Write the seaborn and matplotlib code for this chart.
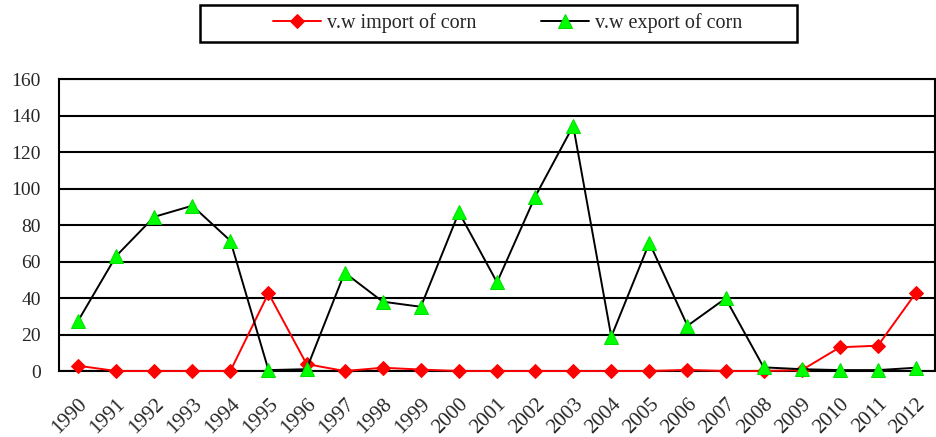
import pandas as pd
import matplotlib.pyplot as plt
import seaborn as sns
from matplotlib.patches import Rectangle

years = list(range(1990, 2013))
import_corn = [2.9, 0, 0, 0, 0, 42.6, 3.8, 0, 1.8, 0.8, 0, 0, 0, 0, 0, 0, 0.6, 0, 0, 0.5, 13.0, 13.9, 42.9]
export_corn = [27.4, 63.0, 84.5, 90.6, 71.4, 0.5, 1.0, 53.9, 38.0, 35.2, 87.0, 48.6, 95.5, 134.4, 18.8, 70.3, 24.8, 39.8, 2.0, 1.0, 0.5, 0.5, 1.8]

df = pd.DataFrame({"year": years, "import": import_corn, "export": export_corn})

sns.set_style("white")
plt.rcParams["font.family"] = ["Liberation Serif", "DejaVu Serif"]

fig = plt.figure(figsize=(9.36, 4.37), dpi=100)
ax = fig.add_axes([0.063, 0.151, 0.936, 0.668])

sns.lineplot(data=df, x="year", y="import", ax=ax, color="red", linewidth=1.4,
             marker="D", markersize=7, markeredgecolor="red", markerfacecolor="red",
             label="v.w import of corn", clip_on=False, zorder=3)
sns.lineplot(data=df, x="year", y="export", ax=ax, color="black", linewidth=1.4,
             marker="^", markersize=10, markeredgecolor="#00e000", markerfacecolor="#00ff00",
             label="v.w export of corn", clip_on=False, zorder=4)

ax.set_xlim(1989.5, 2012.5)
ax.set_ylim(0, 160)
ax.set_yticks(range(0, 161, 20))
ax.set_xticks(years)
ax.set_xticks([y + 0.5 for y in years[:-1]], minor=True)
ax.yaxis.grid(True, color="black", linewidth=1.5)
ax.set_axisbelow(True)
ax.set_xlabel("")
ax.set_ylabel("")
for s in ax.spines.values():
    s.set_color("black")
    s.set_linewidth(1.5)

ax.tick_params(axis="y", length=0, labelsize=14, pad=13)
ax.tick_params(axis="x", which="major", length=0, labelsize=15, pad=17)
ax.tick_params(axis="x", which="minor", length=4, width=1.5, direction="in", color="black")
plt.setp(ax.get_xticklabels(), rotation=45, ha="right", rotation_mode="anchor")

ax.get_legend().remove()
handles, labels = ax.get_legend_handles_labels()
fig.patches.append(Rectangle((200 / 936, 1 - 42 / 437), 597 / 936, 37 / 437,
                             transform=fig.transFigure, fill=False,
                             edgecolor="black", linewidth=1.8))
fig.legend(handles, labels, loc="center", bbox_to_anchor=(0.5425, 1 - 23.5 / 437), ncol=2,
           frameon=False, fontsize=14.5, handlelength=2.4, handletextpad=0.3,
           columnspacing=3.2)

fig.savefig("out.png", dpi=100)
